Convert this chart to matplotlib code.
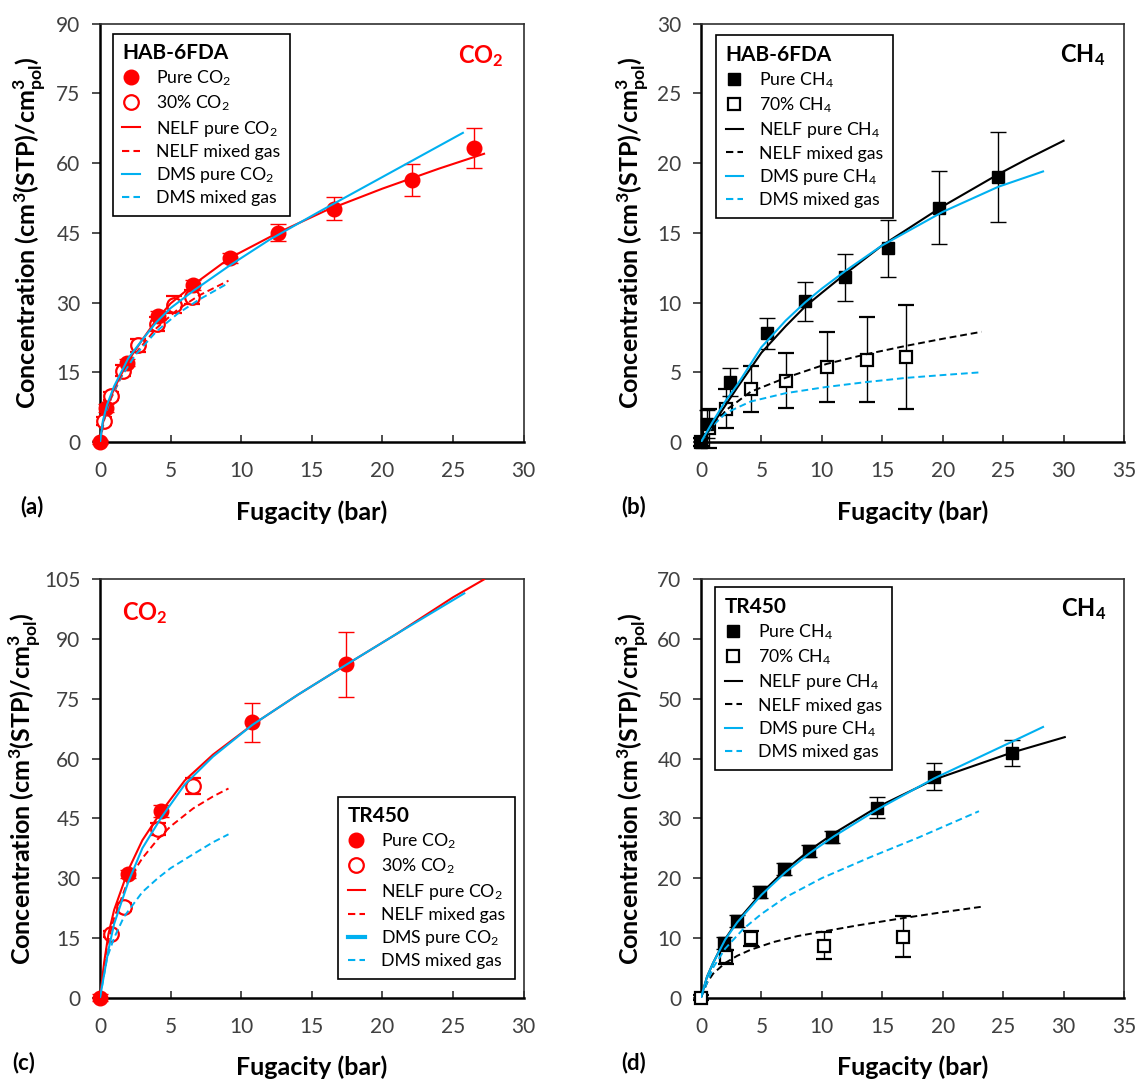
import numpy as np
import matplotlib
matplotlib.use('Agg')
import matplotlib.pyplot as plt
from matplotlib.lines import Line2D

RED = '#FF0000'
BLUE = '#00B0F0'

plt.rcParams['font.family'] = ['Lato', 'DejaVu Sans']
plt.rcParams['mathtext.fontset'] = 'custom'
plt.rcParams['mathtext.rm'] = 'Lato'
plt.rcParams['mathtext.bf'] = 'Lato:bold'
plt.rcParams['mathtext.it'] = 'Lato:italic'

################################################################################
# (a) HAB-6FDA, CO2
a_pure_f = [0.0, 0.4, 1.9, 4.1, 6.6, 9.2, 12.6, 16.6, 22.1, 26.5]
a_pure_c = [0.0, 7.3, 17.1, 27.2, 33.8, 39.6, 45.0, 50.2, 56.4, 63.2]
a_pure_e = [0.5, 0.8, 0.8, 1.0, 1.0, 1.0, 1.8, 2.5, 3.5, 4.3]
a_mix_f = [0.25, 0.8, 1.65, 2.7, 4.05, 5.25, 6.5]
a_mix_c = [4.5, 9.9, 15.3, 20.8, 25.3, 29.5, 31.2]
a_mix_e = [0.8, 0.8, 1.2, 1.4, 1.5, 1.8, 1.6]
a_nelf_pure_f = [0, 0.2, 0.5, 1, 2, 3, 4, 5, 6.6, 9.2, 12.6, 16, 20, 24, 27.2]
a_nelf_pure_c = [0, 4.0, 7.5, 11.5, 17.5, 22.0, 26.3, 29.8, 33.8, 39.6, 45.0, 49.8, 54.5, 58.8, 62.0]
a_dms_pure_f = [0, 0.2, 0.5, 1, 2, 3, 4, 5, 6.6, 9.2, 12, 15.5, 20, 25.7]
a_dms_pure_c = [0, 4.5, 8.0, 12.0, 18.0, 22.0, 25.8, 28.8, 32.5, 38.0, 43.5, 49.5, 57.0, 66.5]
a_nelf_mix_f = [0, 0.3, 0.8, 1.5, 2.5, 4, 5.5, 7, 9.1]
a_nelf_mix_c = [0, 4.8, 9.5, 14.0, 19.0, 24.5, 28.5, 31.5, 34.7]
a_dms_mix_f = [0, 0.3, 0.8, 1.5, 2.5, 4, 5.5, 7, 9.1]
a_dms_mix_c = [0, 5.0, 9.8, 14.0, 18.7, 23.8, 27.6, 30.6, 34.2]

# (b) HAB-6FDA, CH4
b_pure_f = [0.0, 0.5, 2.4, 5.5, 8.6, 11.9, 15.5, 19.7, 24.6]
b_pure_c = [0.0, 1.3, 4.3, 7.8, 10.1, 11.8, 13.9, 16.8, 19.0]
b_pure_e = [0.3, 1.0, 1.0, 1.1, 1.4, 1.7, 2.05, 2.6, 3.2]
b_mix_f = [0.0, 0.7, 2.1, 4.1, 7.0, 10.4, 13.7, 17.0]
b_mix_c = [0.0, 1.0, 2.4, 3.8, 4.4, 5.4, 5.9, 6.1]
b_mix_e = [0.3, 1.4, 1.4, 1.65, 1.95, 2.5, 3.05, 3.7]
b_nelf_pure_f = [0, 1, 2, 3, 5, 7, 8.6, 10, 12, 15, 17.5, 20, 24.6, 27, 30]
b_nelf_pure_c = [0, 1.3, 2.6, 3.9, 6.4, 8.3, 9.7, 10.7, 12.1, 14.1, 15.5, 16.9, 19.2, 20.3, 21.6]
b_dms_pure_f = [0, 1, 2, 3, 5, 7, 8.6, 10, 12, 15, 17.5, 20, 24.6, 28.3]
b_dms_pure_c = [0, 1.5, 2.9, 4.1, 6.8, 8.7, 10.0, 11.0, 12.3, 14.1, 15.3, 16.5, 18.3, 19.4]
b_nelf_mix_f = [0, 1, 2.1, 4.1, 7, 10.4, 13.7, 17, 20, 23.2]
b_nelf_mix_c = [0, 1.2, 2.3, 3.6, 4.6, 5.6, 6.3, 6.9, 7.4, 7.9]
b_dms_mix_f = [0, 1, 2.1, 4.1, 7, 10.4, 13.7, 17, 20, 23.2]
b_dms_mix_c = [0, 1.2, 2.1, 2.9, 3.5, 3.95, 4.3, 4.6, 4.8, 5.0]

# (c) TR450, CO2
c_pure_f = [0.0, 2.0, 4.3, 10.8, 17.4]
c_pure_c = [0.0, 31.0, 46.9, 69.1, 83.7]
c_pure_e = [0.8, 1.0, 1.5, 4.8, 8.2]
c_mix_f = [0.8, 1.7, 4.1, 6.6]
c_mix_c = [15.9, 22.7, 42.3, 53.1]
c_mix_e = [0.8, 1.0, 1.5, 2.0]
c_nelf_pure_f = [0, 0.3, 0.6, 1, 2, 3, 4.3, 6, 8, 10.8, 14, 17.4, 21, 25, 27.2]
c_nelf_pure_c = [0, 9, 16, 22, 32, 39.5, 46.5, 54.5, 61, 68.5, 76, 83.5, 91.3, 100.5, 105]
c_dms_pure_f = [0, 0.3, 0.6, 1, 2, 3, 4.3, 6, 8, 10.8, 14, 17.4, 21, 25.8]
c_dms_pure_c = [0, 6, 12, 18.5, 29, 37.5, 45, 53.5, 60.5, 68.5, 76, 83.5, 91.3, 101.5]
c_nelf_mix_f = [0, 0.5, 1, 2, 3, 4.1, 5, 6.6, 8, 9.1]
c_nelf_mix_c = [0, 13, 20, 29.5, 35, 39.8, 43, 47.5, 50.5, 52.5]
c_dms_mix_f = [0, 0.5, 1, 1.7, 3, 4.1, 5, 6.6, 8, 9.1]
c_dms_mix_c = [0, 10, 15, 20.3, 26.5, 30, 32.5, 36, 39, 41]

# (d) TR450, CH4
d_pure_f = [1.9, 3.0, 4.9, 6.9, 8.9, 10.8, 14.6, 19.3, 25.7]
d_pure_c = [9.2, 12.8, 17.6, 21.5, 24.6, 26.9, 31.8, 37.0, 41.0]
d_pure_e = [1.0, 1.0, 1.0, 1.0, 1.0, 1.0, 1.7, 2.2, 2.2]
d_mix_f = [0.0, 2.1, 4.1, 10.2, 16.7]
d_mix_c = [0.0, 6.8, 9.9, 8.7, 10.2]
d_mix_e = [0.4, 1.2, 1.3, 2.3, 3.4]
d_nelf_pure_f = [0, 0.5, 1, 2, 3, 5, 7, 9, 11, 14.6, 19.3, 25.7, 30.1]
d_nelf_pure_c = [0, 3.5, 5.8, 9.8, 12.8, 17.5, 21.4, 24.7, 27.5, 31.9, 36.5, 41.0, 43.6]
d_dms_pure_f = [0, 0.5, 1, 2, 3, 5, 7, 9, 11, 14.6, 19.3, 25.7, 28.3]
d_dms_pure_c = [0, 3.5, 5.8, 9.7, 12.6, 17.2, 21.0, 24.2, 27.0, 31.5, 36.7, 42.8, 45.3]
d_nelf_mix_f = [0, 0.5, 1, 2, 3, 4.1, 6, 8, 10.2, 13, 16.7, 20, 23.2]
d_nelf_mix_c = [0, 2.5, 4.0, 5.8, 7.0, 8.0, 9.3, 10.3, 11.1, 12.1, 13.3, 14.3, 15.2]
d_dms_mix_f = [0, 1, 2, 3.5, 5, 7, 10, 14, 18, 23]
d_dms_mix_c = [0, 5.0, 8.2, 11.5, 14.0, 16.8, 20.0, 23.5, 26.8, 31.2]

################################################################################

TICK_COL = '#404040'
DASH = (0, (3.5, 2))

fig = plt.figure(figsize=(11.38, 10.8), dpi=100)
W, H = 1138., 1080.
def mk_axes(l, t, r, b):
    return fig.add_axes([l / W, 1 - b / H, (r - l) / W, (b - t) / H])

ax_a = mk_axes(100, 23.6, 523.6, 442)
ax_b = mk_axes(701, 23.6, 1124, 442)
ax_c = mk_axes(100, 579.4, 523.6, 997.6)
ax_d = mk_axes(701, 579.4, 1124, 997.6)


def style_axes(ax, xmax, ymax, ystep, ylab_x):
    ax.set_xlim(0, xmax)
    ax.set_ylim(0, ymax)
    ax.set_xticks(np.arange(0, xmax + 1, 5))
    ax.set_yticks(np.arange(0, ymax + 1, ystep))
    for s in ['left', 'bottom']:
        ax.spines[s].set_linewidth(1.8)
        ax.spines[s].set_color('black')
    for s in ['top', 'right']:
        ax.spines[s].set_linewidth(1.2)
        ax.spines[s].set_color('#303030')
    ax.tick_params(axis='x', direction='in', length=5, width=1.2, pad=14,
                   labelsize=15, labelcolor=TICK_COL, color='#303030')
    ax.tick_params(axis='y', direction='out', length=6, width=1.2, pad=8,
                   labelsize=15, labelcolor=TICK_COL, color='#303030')
    ax.set_xlabel('Fugacity (bar)', fontsize=18, fontweight='bold', va='center')
    ax.xaxis.set_label_coords(0.5, -0.167)
    ax.set_ylabel(r'Concentration (cm$^\mathbf{3}$(STP)/cm$^\mathbf{3}_\mathbf{pol}$)',
                  fontsize=18, fontweight='bold', va='center')
    ax.yaxis.set_label_coords(ylab_x, 0.5)


def draw_panel(ax, col, mk, ms, pure, mix, lines, gas, title, legloc, legbox,
               thick_dms=False):
    pf, pc, pe = pure
    mf, mc, me = mix
    ax.errorbar(mf, mc, yerr=me, fmt=mk, ms=ms, mfc='white', mec=col, mew=1.6,
                ecolor=col, elinewidth=1.0, capsize=6, capthick=1.0, zorder=3,
                clip_on=False)
    ax.errorbar(pf, pc, yerr=pe, fmt=mk, ms=ms, mfc=col, mec=col, mew=1.0,
                ecolor=col, elinewidth=1.0, capsize=6, capthick=1.0, zorder=3,
                clip_on=False)
    (nf, nc), (nmf, nmc), (df, dc), (dmf, dmc) = lines
    ax.plot(nmf, nmc, color=col, lw=1.4, ls=DASH, zorder=4)
    ax.plot(dmf, dmc, color=BLUE, lw=1.4, ls=DASH, zorder=4)
    ax.plot(nf, nc, color=col, lw=1.5, zorder=5)
    ax.plot(df, dc, color=BLUE, lw=1.5, zorder=5)

    if gas == 'CO2':
        lab_p, lab_m, lab_n = 'Pure CO$_2$', '30% CO$_2$', 'NELF pure CO$_2$'
        lab_d = 'DMS pure CO$_2$'
    else:
        lab_p, lab_m, lab_n = 'Pure CH$_4$', '70% CH$_4$', 'NELF pure CH$_4$'
        lab_d = 'DMS pure CH$_4$'
    handles = [
        Line2D([], [], ls='none', marker=mk, ms=ms, mfc=col, mec=col),
        Line2D([], [], ls='none', marker=mk, ms=ms, mfc='white', mec=col, mew=1.6),
        Line2D([], [], color=col, lw=1.5),
        Line2D([], [], color=col, lw=1.5, ls=DASH),
        Line2D([], [], color=BLUE, lw=3.0 if thick_dms else 1.5),
        Line2D([], [], color=BLUE, lw=1.5, ls=DASH),
    ]
    labels = [lab_p, lab_m, lab_n, 'NELF mixed gas', lab_d, 'DMS mixed gas']
    leg = ax.legend(handles, labels, loc=legloc, bbox_to_anchor=legbox,
                    title=title, title_fontproperties={'weight': 'bold', 'size': 15},
                    alignment='left', fontsize=12.7, frameon=True, fancybox=False,
                    edgecolor='black', framealpha=1, handlelength=1.0,
                    handletextpad=0.9, labelspacing=0.3, borderpad=0.55,
                    borderaxespad=0)
    leg.get_frame().set_linewidth(1.2)
    leg.set_zorder(10)


style_axes(ax_a, 30, 90, 15, -0.166)
draw_panel(ax_a, RED, 'o', 10.5, (a_pure_f, a_pure_c, a_pure_e),
           (a_mix_f, a_mix_c, a_mix_e),
           [(a_nelf_pure_f, a_nelf_pure_c), (a_nelf_mix_f, a_nelf_mix_c),
            (a_dms_pure_f, a_dms_pure_c), (a_dms_mix_f, a_dms_mix_c)],
           'CO2', 'HAB-6FDA', 'upper left', (0.03, 0.976))

style_axes(ax_b, 35, 30, 5, -0.161)
draw_panel(ax_b, 'black', 's', 9, (b_pure_f, b_pure_c, b_pure_e),
           (b_mix_f, b_mix_c, b_mix_e),
           [(b_nelf_pure_f, b_nelf_pure_c), (b_nelf_mix_f, b_nelf_mix_c),
            (b_dms_pure_f, b_dms_pure_c), (b_dms_mix_f, b_dms_mix_c)],
           'CH4', 'HAB-6FDA', 'upper left', (0.035, 0.972))

style_axes(ax_c, 30, 105, 15, -0.177)
draw_panel(ax_c, RED, 'o', 10.5, (c_pure_f, c_pure_c, c_pure_e),
           (c_mix_f, c_mix_c, c_mix_e),
           [(c_nelf_pure_f, c_nelf_pure_c), (c_nelf_mix_f, c_nelf_mix_c),
            (c_dms_pure_f, c_dms_pure_c), (c_dms_mix_f, c_dms_mix_c)],
           'CO2', 'TR450', 'lower right', (0.98, 0.044), thick_dms=True)

style_axes(ax_d, 35, 70, 10, -0.161)
draw_panel(ax_d, 'black', 's', 9, (d_pure_f, d_pure_c, d_pure_e),
           (d_mix_f, d_mix_c, d_mix_e),
           [(d_nelf_pure_f, d_nelf_pure_c), (d_nelf_mix_f, d_nelf_mix_c),
            (d_dms_pure_f, d_dms_pure_c), (d_dms_mix_f, d_dms_mix_c)],
           'CH4', 'TR450', 'upper left', (0.033, 0.981))

# gas labels inside the panels
ax_a.text(0.90, 0.922, r'CO$_\mathbf{2}$', color=RED, fontsize=17, fontweight='bold',
          ha='center', va='center', transform=ax_a.transAxes)
ax_b.text(0.903, 0.925, r'CH$_\mathbf{4}$', color='black', fontsize=17, fontweight='bold',
          ha='center', va='center', transform=ax_b.transAxes)
ax_c.text(0.107, 0.92, r'CO$_\mathbf{2}$', color=RED, fontsize=17, fontweight='bold',
          ha='center', va='center', transform=ax_c.transAxes)
ax_d.text(0.905, 0.929, r'CH$_\mathbf{4}$', color='black', fontsize=17, fontweight='bold',
          ha='center', va='center', transform=ax_d.transAxes)

# panel letters
for lab, x, y in [('(a)', 32, 507), ('(b)', 634, 507), ('(c)', 24, 1063), ('(d)', 634, 1063)]:
    fig.text(x / W, 1 - y / H, lab, fontsize=16, fontweight='bold', ha='center', va='center')

fig.savefig('out.png', dpi=100)
